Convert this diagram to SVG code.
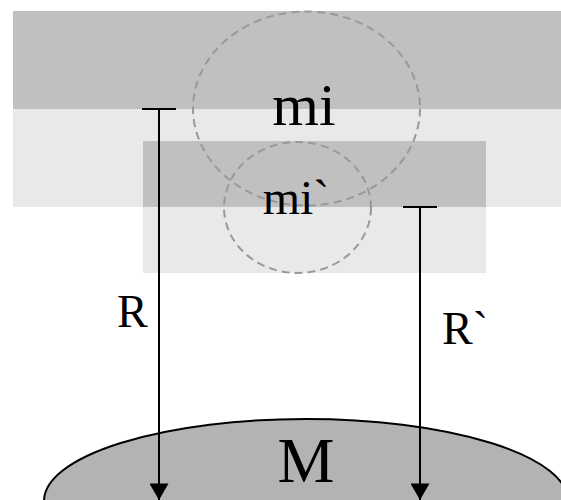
<svg xmlns="http://www.w3.org/2000/svg" width="561" height="500" viewBox="0 0 561 500">
<style>
.dark{fill:#c0c0c0}
.light{fill:#e9e9e9}
.dash{fill:none;stroke:#999999;stroke-width:2;stroke-dasharray:8 5}
.lbl{font-family:"Liberation Serif","Times New Roman",serif;fill:#000}
.ln{stroke:#000;stroke-width:2;fill:none}
</style>
<defs>
<marker id="ah" markerWidth="22" markerHeight="19" refX="19" refY="11" orient="auto" markerUnits="userSpaceOnUse" viewBox="0 0 19 22">
<path d="M0,0 L19,11 L0,22 Z" fill="#000"/>
</marker>
</defs>
<g id="bands">
<rect class="dark" x="13" y="11" width="548" height="98"/>
<rect class="light" x="13" y="109" width="548" height="98"/>
<rect class="dark" x="143" y="141" width="343" height="66"/>
<rect class="light" x="143" y="207" width="343" height="66"/>
</g>
<g id="mass-M">
<ellipse cx="306" cy="501" rx="262" ry="82" fill="#b3b3b3" stroke="#000" stroke-width="2"/>
<text class="lbl" x="306" y="482" font-size="64" text-anchor="middle">M</text>
</g>
<g id="mi">
<ellipse class="dash" cx="306.5" cy="108.5" rx="113.5" ry="97"/>
<text class="lbl" x="304" y="125" font-size="60" text-anchor="middle">mi</text>
</g>
<g id="mi-prime">
<ellipse class="dash" cx="297.5" cy="207.5" rx="73.5" ry="65.5"/>
<text class="lbl" x="296" y="214" font-size="48" text-anchor="middle">mi`</text>
</g>
<g id="connectors">
<line class="ln" x1="142" y1="109" x2="176" y2="109"/>
<line class="ln" x1="159" y1="109" x2="159" y2="500" marker-end="url(#ah)"/>
<line class="ln" x1="403" y1="207" x2="437" y2="207"/>
<line class="ln" x1="420" y1="207" x2="420" y2="500" marker-end="url(#ah)"/>
</g>
<g id="labels">
<text class="lbl" x="117" y="327" font-size="46">R</text>
<text class="lbl" x="442" y="344" font-size="46">R`</text>
</g>
</svg>
